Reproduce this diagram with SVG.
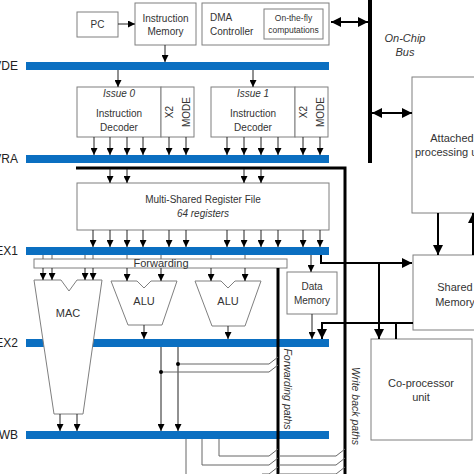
<svg xmlns="http://www.w3.org/2000/svg" width="474" height="474" viewBox="0 0 474 474">
<defs>
<marker id="ah" viewBox="0 0 10 10" refX="10" refY="5" markerWidth="8" markerHeight="7" markerUnits="userSpaceOnUse" orient="auto-start-reverse"><path d="M0,0 L10,5 L0,10z" fill="#000"/></marker>
<marker id="AH" viewBox="0 0 10 10" refX="10" refY="5" markerWidth="13" markerHeight="10" markerUnits="userSpaceOnUse" orient="auto-start-reverse"><path d="M0,0 L10,5 L0,10z" fill="#000"/></marker>
</defs>
<style>
.box{fill:#fff;stroke:#7f7f7f;stroke-width:1}
.bar{fill:#0b6fc1}
.t{font-family:"Liberation Sans",Arial,sans-serif;font-size:10px;fill:#333;text-anchor:middle}
.i{font-style:italic}
.lbl{font-size:12px;text-anchor:end;fill:#222}
.ln{stroke:#222;stroke-width:1;fill:none}
.g{stroke:#666;stroke-width:1;fill:none}
.th{stroke:#000;stroke-width:3;fill:none}
.m{stroke:#000;stroke-width:2;fill:none}
.a{marker-end:url(#ah)}
.A{marker-end:url(#AH)}
</style>
<rect width="474" height="474" fill="#fff"/>

<g id="stages">
<rect class="bar" x="26" y="62" width="303" height="8"/>
<rect class="bar" x="26" y="155" width="303" height="8"/>
<rect class="bar" x="26" y="247" width="303" height="8"/>
<rect class="bar" x="26" y="339" width="303" height="8"/>
<rect class="bar" x="26" y="431" width="303" height="8"/>
<text class="t lbl" x="18" y="70">VDE</text>
<text class="t lbl" x="18" y="163">VRA</text>
<text class="t lbl" x="18" y="255">EX1</text>
<text class="t lbl" x="18" y="347">EX2</text>
<text class="t lbl" x="18" y="439">WB</text>
</g>

<g id="pc">
<rect class="box" x="77" y="12" width="41" height="25"/>
<text class="t" x="97.5" y="28">PC</text>
</g>
<g id="imem">
<rect class="box" x="135" y="3" width="61" height="42"/>
<text class="t" x="165.5" y="22">Instruction</text>
<text class="t" x="165.5" y="35">Memory</text>
</g>
<g id="dma">
<rect class="box" x="202" y="3" width="127" height="42"/>
<text class="t" x="210" y="21" style="text-anchor:start">DMA</text>
<text class="t" x="210" y="35" style="text-anchor:start">Controller</text>
<rect class="box" x="264" y="9" width="59" height="30"/>
<text class="t" x="293.5" y="21" style="font-size:8.5px">On-the-fly</text>
<text class="t" x="293.5" y="33" style="font-size:8.5px">computations</text>
</g>
<g id="bus-label">
<text class="t i" x="405" y="42" style="font-size:11px">On-Chip</text>
<text class="t i" x="405" y="56" style="font-size:11px">Bus</text>
</g>

<g id="decoder0">
<rect class="box" x="77" y="87" width="84" height="50"/>
<rect class="box" x="161" y="87" width="33" height="50"/>
<text class="t i" x="119" y="97">Issue 0</text>
<text class="t" x="119" y="117">Instruction</text>
<text class="t" x="119" y="131">Decoder</text>
<text class="t" x="173" y="112" transform="rotate(-90 173 112)">X2</text>
<text class="t" x="190" y="112" transform="rotate(-90 190 112)">MODE</text>
</g>
<g id="decoder1">
<rect class="box" x="211" y="87" width="84" height="50"/>
<rect class="box" x="295" y="87" width="33" height="50"/>
<text class="t i" x="253" y="97">Issue 1</text>
<text class="t" x="253" y="117">Instruction</text>
<text class="t" x="253" y="131">Decoder</text>
<text class="t" x="307" y="112" transform="rotate(-90 307 112)">X2</text>
<text class="t" x="324" y="112" transform="rotate(-90 324 112)">MODE</text>
</g>

<g id="regfile">
<rect class="box" x="77" y="183" width="252" height="47"/>
<text class="t" x="203" y="203">Multi-Shared Register File</text>
<text class="t i" x="203" y="217">64 registers</text>
</g>

<g id="forwarding">
<rect class="box" x="34" y="259" width="253" height="9"/>
<text class="t" x="161" y="267" style="font-size:11px">Forwarding</text>
</g>

<g id="mac">
<path class="box" d="M34,280 L61,280 L69,291 L77,280 L102,280 L83,414 L54,414 Z"/>
<text class="t" x="68" y="317" style="font-size:11px">MAC</text>
</g>
<g id="alu1">
<path class="box" d="M111,281 L137,281 L144,288 L151,281 L177,281 L162,325 L128,325 Z"/>
<text class="t" x="144" y="305" style="font-size:11px">ALU</text>
</g>
<g id="alu2">
<path class="box" d="M195,281 L221,281 L228,288 L235,281 L261,281 L245,326 L212,326 Z"/>
<text class="t" x="228" y="305" style="font-size:11px">ALU</text>
</g>

<g id="dmem">
<rect class="box" x="287" y="272" width="50" height="42"/>
<text class="t" x="312" y="290">Data</text>
<text class="t" x="312" y="304">Memory</text>
</g>

<g id="attached">
<rect class="box" x="412" y="77" width="110" height="136"/>
<text class="t" x="452" y="142" style="font-size:11px">Attached</text>
<text class="t" x="452" y="156" style="font-size:11px">processing unit</text>
</g>
<g id="shared">
<rect class="box" x="413" y="255" width="90" height="75"/>
<text class="t" x="455" y="291" style="font-size:11px">Shared</text>
<text class="t" x="455" y="306" style="font-size:11px">Memory</text>
</g>
<g id="coproc">
<rect class="box" x="371" y="339" width="101" height="101"/>
<text class="t" x="421" y="387" style="font-size:11px">Co-processor</text>
<text class="t" x="421" y="401" style="font-size:11px">unit</text>
</g>

<g id="path-labels">
<text class="t i" x="284" y="389" transform="rotate(90 284 389)" style="font-size:10.5px">Forwarding paths</text>
<text class="t i" x="352" y="406" transform="rotate(90 352 406)" style="font-size:10.5px">Write back paths</text>
</g>

<g id="connectors">
<line x1="370" y1="0" x2="370" y2="163" stroke="#000" stroke-width="4"/>
<path class="ln a" d="M118,24 H135"/>
<path class="ln a" d="M165,45 V62"/>
<path class="m" d="M331,22 H368" marker-start="url(#AH)" marker-end="url(#AH)"/>
<path class="m" d="M372,113 H412" marker-start="url(#AH)" marker-end="url(#AH)"/>
<path class="ln a" d="M118,70 V87"/>
<path class="ln a" d="M253,70 V87"/>
<g class="ln">
<path class="a" d="M94,137 V155"/><path class="a" d="M110,137 V155"/><path class="a" d="M127,137 V155"/><path class="a" d="M143,137 V155"/>
<path class="a" d="M169,137 V155"/><path class="a" d="M186,137 V155"/>
<path class="a" d="M227,137 V155"/><path class="a" d="M244,137 V155"/><path class="a" d="M261,137 V155"/><path class="a" d="M278,137 V155"/>
<path class="a" d="M303,137 V155"/><path class="a" d="M320,137 V155"/>
</g>
<path class="th" d="M76,168 H345 V474"/>
<g class="ln">
<path class="a" d="M110,169 V183"/><path class="a" d="M127,169 V183"/><path class="a" d="M244,169 V183"/><path class="a" d="M261,169 V183"/>
</g>
<g class="ln">
<path class="a" d="M93,230 V247"/><path class="a" d="M110,230 V247"/><path class="a" d="M127,230 V247"/><path class="a" d="M143,230 V247"/>
<path class="a" d="M169,230 V247"/><path class="a" d="M186,230 V247"/><path class="a" d="M227,230 V247"/>
<path class="a" d="M244,230 V247"/><path class="a" d="M261,230 V247"/><path class="a" d="M278,230 V247"/>
<path class="a" d="M303,230 V247"/><path class="a" d="M320,230 V247"/>
</g>
<g class="g">
<path d="M43,255 V259 M52,255 V259 M85,255 V259 M93,255 V259 M127,255 V259 M161,255 V259 M211,255 V259 M245,255 V259"/>
</g>
<g class="ln">
<path class="a" d="M43,268 V280"/><path class="a" d="M52,268 V280"/><path class="a" d="M85,268 V280"/><path class="a" d="M93,268 V280"/>
<path class="a" d="M127,268 V281"/><path class="a" d="M161,268 V281"/><path class="a" d="M211,268 V281"/><path class="a" d="M245,268 V281"/>
<path class="a" d="M311,255 V272"/>
<path class="a" d="M312,314 V339"/>
<path class="a" d="M144,325 V339"/><path class="a" d="M228,326 V339"/>
<path class="a" d="M60,414 V431"/><path class="a" d="M77,414 V431"/>
<path class="a" d="M161,347 V431"/><path class="a" d="M178,347 V431"/>
</g>
<path class="m A" d="M321,255 V263 H412"/>
<path class="m A" d="M379,263 V339"/>
<path class="m A" d="M413,323 H322 V339"/>
<path class="m" d="M396,323 V339"/>
<path class="m A" d="M438,213 V255"/>
<path class="m A" d="M473,255 V213"/>
<line x1="278" y1="268" x2="278" y2="474" stroke="#000" stroke-width="3"/>
<g class="g">
<path d="M178,364 H269 L278,357"/>
<path d="M161,372 H269 L278,365"/>
<path d="M219,439 V456 H269 L278,449 M280,456 H336 L345,449"/>
<path d="M202,439 V465 H269 L278,458 M280,465 H336 L345,458"/>
<path d="M186,439 V474 M262,474 H269 L278,467 M280,474 H336 L345,467"/>
</g>
<circle cx="178" cy="364" r="2" fill="#000"/>
<circle cx="161" cy="372" r="2" fill="#000"/>
</g>
</svg>
